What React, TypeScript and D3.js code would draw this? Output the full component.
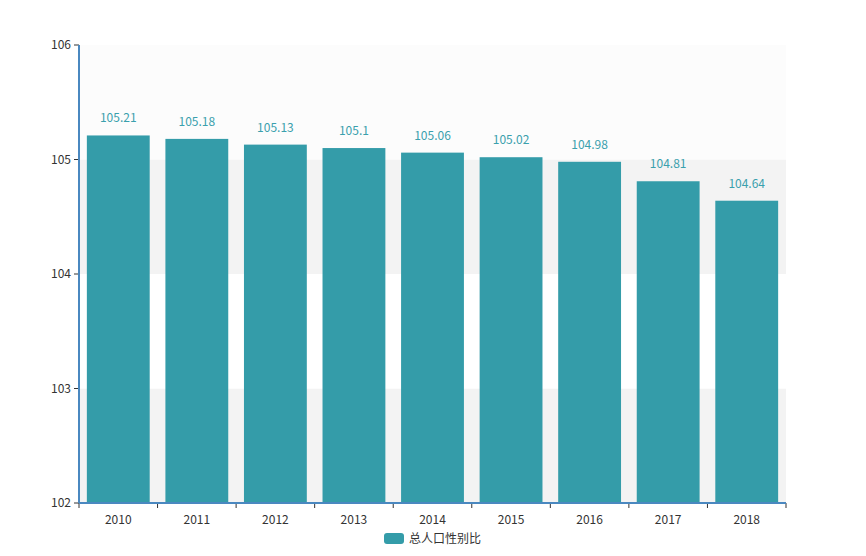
import React from "react";
import { scaleBand, scaleLinear } from "d3";

const years = ["2010", "2011", "2012", "2013", "2014", "2015", "2016", "2017", "2018"];
const ratio = [105.21, 105.18, 105.13, 105.1, 105.06, 105.02, 104.98, 104.81, 104.64];
const yTicks = [102, 103, 104, 105, 106];
const seriesName = "总人口性别比";

const width = 866;
const height = 556;
const margin = { top: 45, right: 80, bottom: 53, left: 79 };
const font = "'Noto Sans CJK SC', 'Noto Sans', sans-serif";

const App = () => {
    const innerWidth = width - margin.left - margin.right;
    const innerHeight = height - margin.top - margin.bottom;

    const xScale = scaleBand().domain(years).range([0, innerWidth]).paddingInner(0.2).paddingOuter(0.1);
    const yScale = scaleLinear().domain([102, 106]).range([innerHeight, 0]);
    const step = xScale.step();
    const edges = years.map((_, i) => i * step).concat([innerWidth]);
    const bandFill = ["#f3f3f3", "#ffffff", "#f3f3f3", "#fcfcfc"];

    return (
        <svg width={width} height={height} style={{ position: "absolute", left: 0, top: 0 }}>
            <g transform={`translate(${margin.left}, ${margin.top})`} fontFamily={font}>
                {/* alternating background bands */}
                {yTicks.slice(0, -1).map((t, i) => (
                    <rect key={t} x={0} y={yScale(t + 1)} width={innerWidth}
                        height={yScale(t) - yScale(t + 1)} fill={bandFill[i]} />
                ))}

                {years.map((y, i) => (
                    <rect key={y} x={xScale(y)} y={yScale(ratio[i])} width={xScale.bandwidth()}
                        height={innerHeight - yScale(ratio[i])} fill="#349ca9" />
                ))}

                {years.map((y, i) => (
                    <text key={y} x={(xScale(y) as number) + xScale.bandwidth() / 2} y={yScale(ratio[i]) - 13}
                        textAnchor="middle" fontSize={12} fill="#3aa0ad">{ratio[i]}</text>
                ))}

                {/* y axis */}
                {yTicks.map(t => (
                    <g key={t} transform={`translate(0, ${yScale(t)})`}>
                        <line x1={-5} x2={0} stroke="#333" />
                        <text x={-8} dy="0.35em" textAnchor="end" fontSize={12} fill="#333">{t}</text>
                    </g>
                ))}
                <line x1={0} x2={0} y1={0} y2={innerHeight} stroke="#4a88c0" strokeWidth={2} />

                {/* x axis */}
                {edges.map((e, i) => (
                    <line key={i} x1={e} x2={e} y1={innerHeight} y2={innerHeight + 5} stroke="#333" />
                ))}
                {years.map(y => (
                    <text key={y} x={(xScale(y) as number) + xScale.bandwidth() / 2} y={innerHeight + 17}
                        dy="0.35em" textAnchor="middle" fontSize={12} fill="#333">{y}</text>
                ))}
                <line x1={0} x2={innerWidth} y1={innerHeight} y2={innerHeight} stroke="#4a88c0" strokeWidth={2} />
            </g>

            {/* legend */}
            <rect x={384} y={533} width={20} height={11} rx={3} fill="#349ca9" />
            <text x={409} y={539} dy="0.35em" fontSize={12} fill="#333" fontFamily={font}>{seriesName}</text>
        </svg>
    );
};

export default App;
